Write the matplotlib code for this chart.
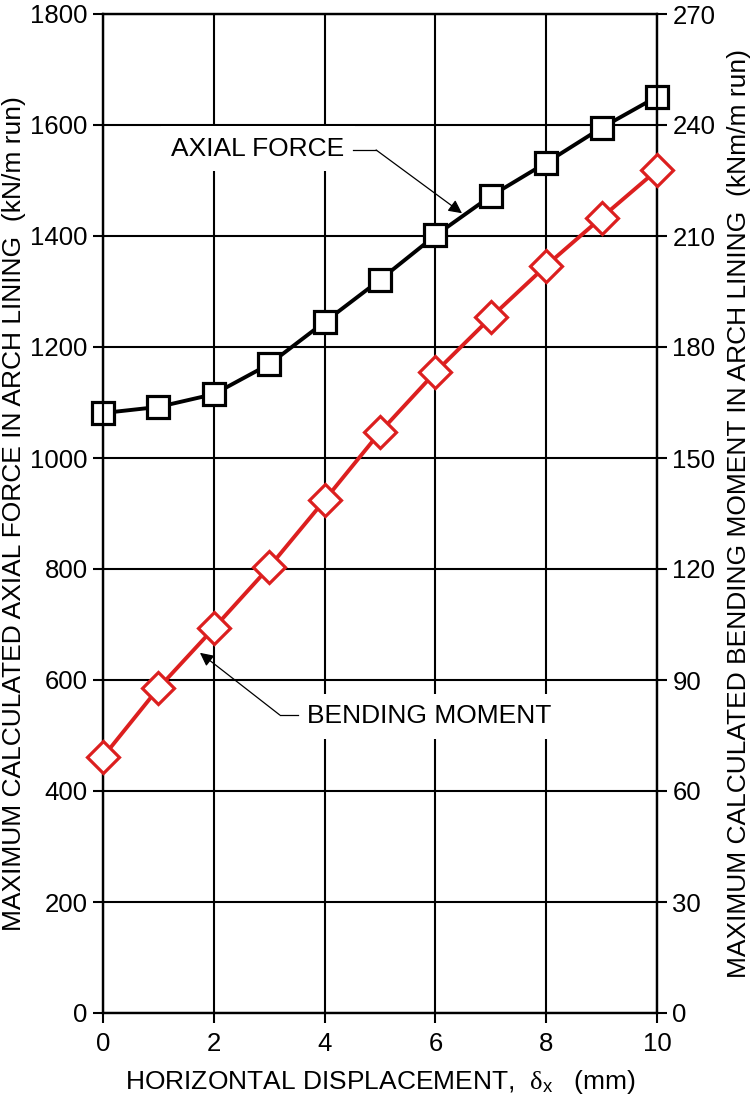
import matplotlib
matplotlib.use("Agg")
import matplotlib.pyplot as plt

plt.rcParams['font.family'] = ['Liberation Sans', 'DejaVu Sans']
plt.rcParams['mathtext.fontset'] = 'custom'
plt.rcParams['mathtext.rm'] = 'Liberation Serif'
plt.rcParams['mathtext.it'] = 'Liberation Serif:italic'
plt.rcParams['mathtext.sf'] = 'Liberation Sans'

# ---- data ----
displacement = [0, 1, 2, 3, 4, 5, 6, 7, 8, 9, 10]
axial_force = [1081, 1092, 1115, 1169, 1245, 1321, 1401, 1472, 1532, 1595, 1651]
bending_moment = [69.2, 87.8, 104.0, 120.5, 138.6, 157.0, 173.2, 188.0, 202.0, 215.0, 227.8]

x_ticks = [0, 2, 4, 6, 8, 10]
left_ticks = [0, 200, 400, 600, 800, 1000, 1200, 1400, 1600, 1800]
right_ticks = [0, 30, 60, 90, 120, 150, 180, 210, 240, 270]

xlabel = "HORIZONTAL DISPLACEMENT,  $\\mathrm{\\delta}$$_{\\mathsf{x}}$   (mm)"
ylabel_left = "MAXIMUM CALCULATED AXIAL FORCE IN ARCH LINING  (kN/m run)"
ylabel_right = "MAXIMUM CALCULATED BENDING MOMENT IN ARCH LINING  (kNm/m run)"

RED = '#dc1f1f'

fig = plt.figure(figsize=(7.53, 10.96), dpi=100)
ax = fig.add_axes([103/753, 1 - 1013/1096, (657-103)/753, (1013-14)/1096])
ax2 = ax.twinx()

ax.set_xlim(0, 10)
ax.set_ylim(0, 1800)
ax2.set_ylim(0, 270)

ax.set_xticks(x_ticks)
ax.set_yticks(left_ticks)
ax2.set_yticks(right_ticks)

ax.grid(True, color='black', linewidth=1.5, zorder=0)
ax.set_axisbelow(True)

for a in (ax, ax2):
    for s in a.spines.values():
        s.set_linewidth(1.6)
        s.set_color('black')

ax.tick_params(axis='y', direction='out', length=7, width=1.5, pad=4, labelsize=18.5)
ax.tick_params(axis='x', direction='out', length=7, width=1.5, pad=7, labelsize=18.5)
ax2.tick_params(axis='y', direction='out', length=7, width=1.5, pad=4, labelsize=18.5)

ax.plot(displacement, axial_force, color='black', linewidth=2.8, marker='s',
        markersize=15.5, markerfacecolor='white', markeredgecolor='black',
        markeredgewidth=2.3, zorder=5, clip_on=False)
ax2.plot(displacement, bending_moment, color=RED, linewidth=2.8, marker='D',
         markersize=16, markerfacecolor='white', markeredgecolor=RED,
         markeredgewidth=2.3, zorder=5, clip_on=False)

ax.set_xlabel(xlabel, fontsize=19, labelpad=8)
ax.set_ylabel(ylabel_left, fontsize=19, labelpad=3)
ax2.set_ylabel(ylabel_right, fontsize=19, labelpad=8)

bbox = dict(boxstyle='square,pad=0.4', fc='white', ec='none')

# AXIAL FORCE label and leader
ax.text(2.80, 1557, "AXIAL FORCE", fontsize=19, ha='center', va='center',
        bbox=bbox, zorder=4)
ax.plot([4.51, 4.93], [1555, 1555], color='black', linewidth=0.9, zorder=4)
ax.annotate('', xy=(6.48, 1441), xytext=(4.93, 1555),
            arrowprops=dict(arrowstyle='-|>', color='black', lw=0.9,
                            mutation_scale=20, shrinkA=0, shrinkB=0), zorder=4)

# BENDING MOMENT label and leader
ax.text(5.88, 535, "BENDING MOMENT", fontsize=19, ha='center', va='center',
        bbox=bbox, zorder=4)
ax.plot([3.52, 3.19], [537, 537], color='black', linewidth=0.9, zorder=4)
ax.annotate('', xy=(1.75, 649), xytext=(3.19, 537),
            arrowprops=dict(arrowstyle='-|>', color='black', lw=0.9,
                            mutation_scale=20, shrinkA=0, shrinkB=0), zorder=4)

fig.savefig('out.png', dpi=100)
